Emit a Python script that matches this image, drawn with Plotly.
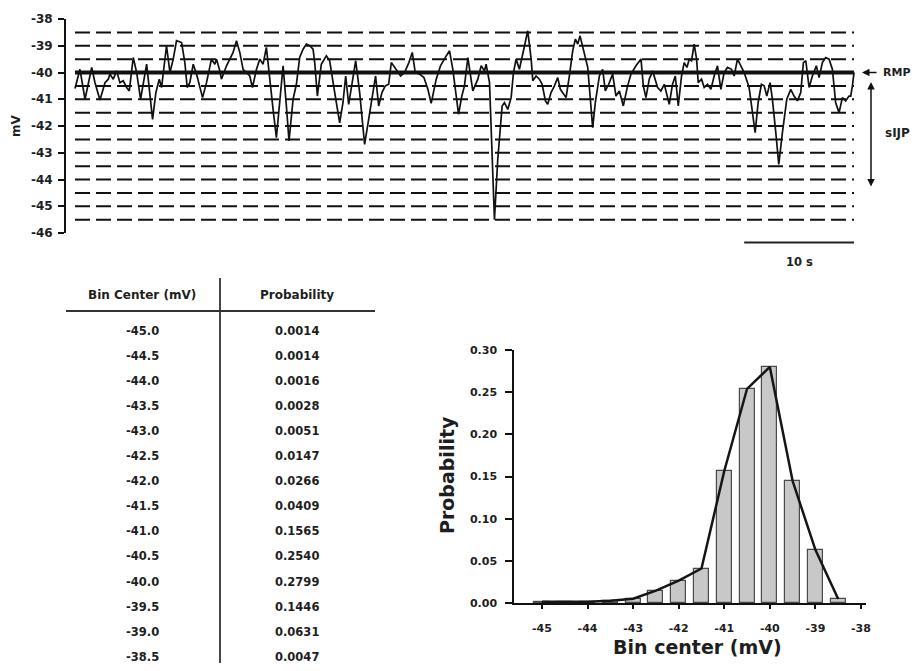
import plotly.graph_objects as go

# ---------------- data ----------------
# membrane potential trace (time in s, potential in mV)
trace_t = [0.00, 0.45, 0.91, 1.52, 1.82, 2.27, 2.73, 3.03, 3.18, 3.48, 3.79, 4.09, 4.39, 4.70, 4.94,
           5.30, 5.61, 5.97, 6.52, 6.82, 7.06, 7.36, 7.67, 7.88, 8.33, 8.64, 8.94, 9.24, 9.70, 10.00,
           10.21, 10.45, 10.76, 11.06, 11.61, 11.97, 12.42, 12.73, 12.88, 13.18, 13.33, 13.79, 14.09,
           14.39, 14.70, 15.00, 15.30, 15.61, 15.91, 16.15, 16.52, 16.82, 17.12, 17.42, 17.73, 18.03,
           18.33, 18.64, 18.94, 19.24, 19.48, 19.85, 20.15, 20.45, 20.76, 21.06, 21.36, 21.67, 21.82,
           22.06, 22.42, 22.88, 23.18, 23.64, 24.09, 24.39, 24.64, 24.91, 25.21, 25.55, 25.91, 26.36,
           26.73, 27.12, 27.36, 27.64, 27.94, 28.24, 28.55, 28.79, 29.24, 29.64, 30.00, 30.39, 30.70,
           30.97, 31.36, 31.76, 32.12, 32.42, 32.88, 33.27, 33.79, 34.09, 34.39, 34.70, 34.91, 35.21,
           35.45, 35.76, 36.21, 36.67, 36.97, 37.27, 37.42, 37.73, 37.94, 38.18, 38.48, 38.88, 39.09,
           39.39, 39.70, 39.91, 40.15, 40.45, 40.85, 41.21, 41.52, 41.67, 41.97, 42.27, 42.52, 42.82,
           43.03, 43.33, 43.64, 43.94, 44.18, 44.45, 44.70, 45.00, 45.30, 45.55, 45.76, 45.97, 46.27,
           46.67, 46.91, 47.12, 47.36, 47.73, 48.03, 48.27, 48.58, 48.94, 49.24, 49.55, 49.91, 50.30,
           50.61, 51.06, 51.52, 51.73, 51.97, 52.27, 52.58, 52.88, 53.03, 53.33, 53.64, 54.09, 54.39,
           54.64, 54.91, 55.21, 55.45, 55.70, 55.91, 56.12, 56.36, 56.58, 56.73, 57.03, 57.27, 57.58,
           57.88, 58.18, 58.48, 58.79, 59.09, 59.39, 59.76, 60.00, 60.30, 60.61, 60.91, 61.36, 61.67,
           61.91, 62.18, 62.48, 62.73, 62.97, 63.27, 63.48, 63.79, 64.06, 64.39, 64.79, 65.15, 65.45,
           65.76, 66.06, 66.30, 66.52, 66.82, 67.12, 67.48, 67.73, 68.03, 68.33, 68.64, 68.94, 69.24,
           69.55, 69.85, 70.15, 70.45, 70.61, 70.76, 70.91]
trace_mv = [-40.60, -39.88, -41.00, -39.81, -40.38, -41.03, -40.38, -40.25, -40.06, -40.25, -39.94,
            -40.38, -40.31, -40.56, -40.69, -39.44, -40.00, -41.00, -39.69, -40.75, -41.75, -40.75,
            -40.25, -40.56, -39.00, -40.00, -39.50, -38.81, -38.88, -39.63, -40.56, -40.38, -39.69,
            -40.06, -40.94, -40.38, -39.50, -39.69, -39.50, -39.94, -40.25, -39.75, -39.50, -39.25,
            -38.81, -39.25, -39.88, -40.00, -40.13, -40.56, -39.88, -39.50, -39.69, -39.06, -40.13,
            -41.38, -42.44, -41.00, -39.75, -41.25, -42.56, -41.00, -40.44, -39.44, -39.13, -38.94,
            -39.00, -39.13, -39.63, -40.88, -39.69, -39.38, -39.56, -40.75, -41.88, -41.13, -40.13,
            -41.19, -40.38, -39.56, -40.75, -42.69, -41.75, -40.75, -40.13, -41.25, -40.75, -40.50,
            -40.44, -39.63, -39.88, -40.13, -40.00, -39.63, -39.25, -40.00, -40.06, -40.19, -40.63,
            -41.15, -40.25, -39.75, -39.38, -39.19, -39.88, -40.88, -41.56, -40.88, -40.50, -39.44,
            -40.69, -40.25, -39.75, -39.94, -39.69, -40.38, -43.00, -45.50, -43.25, -41.25, -41.13,
            -41.38, -40.94, -40.00, -39.50, -39.88, -39.13, -38.44, -39.50, -40.31, -40.13, -40.25,
            -40.44, -41.06, -41.19, -40.75, -40.50, -40.19, -40.63, -40.81, -40.94, -40.13, -39.19,
            -38.75, -38.94, -38.63, -39.13, -39.81, -41.00, -42.06, -41.13, -40.13, -39.88, -40.69,
            -40.44, -40.06, -40.88, -40.69, -41.25, -40.50, -40.06, -39.75, -39.50, -40.50, -40.94,
            -40.25, -39.94, -40.38, -40.56, -40.69, -40.44, -41.19, -40.44, -40.13, -41.25, -40.13,
            -39.63, -39.81, -39.50, -39.56, -38.94, -39.50, -40.38, -40.25, -40.56, -40.44, -40.63,
            -40.13, -39.75, -40.63, -40.00, -39.81, -39.88, -40.13, -39.50, -39.75, -40.00, -40.56,
            -41.50, -42.25, -41.13, -40.44, -40.50, -40.88, -40.38, -41.00, -42.25, -43.44, -42.25,
            -41.00, -40.63, -40.88, -41.06, -40.75, -39.63, -39.56, -40.56, -40.13, -39.75, -40.19,
            -39.63, -39.44, -39.50, -39.88, -41.13, -41.50, -40.94, -41.06, -40.88, -40.88, -40.50,
            -40.00]

rmp_mv = -40.0
bin_edges_mv = [-38.5, -39.0, -39.5, -40.5, -41.0, -41.5, -42.0, -42.5, -43.0,
                -43.5, -44.0, -44.5, -45.0, -45.5]
scale_bar_s = 10

bin_centers = [-45.0, -44.5, -44.0, -43.5, -43.0, -42.5, -42.0, -41.5, -41.0,
               -40.5, -40.0, -39.5, -39.0, -38.5]
probabilities = [0.0014, 0.0014, 0.0016, 0.0028, 0.0051, 0.0147, 0.0266, 0.0409,
                 0.1565, 0.2540, 0.2799, 0.1446, 0.0631, 0.0047]

top_yticks = [-38, -39, -40, -41, -42, -43, -44, -45, -46]
hist_xticks = [-45, -44, -43, -42, -41, -40, -39, -38]
table_headers = ["Bin Center (mV)", "Probability"]

# ---------------- layout helpers ----------------
# the page places the figure 8 px from the window's top-left corner;
# keep the page inside the window so no scrollbars appear
OFF = 8
W, H = 921 - OFF, 671 - 2 * OFF
def px(x):
    return (x - OFF) / W
def py(y):
    return 1 - (y - OFF) / H

FONT = "DejaVu Sans"
TXT = "#1e1e1e"

fig = go.Figure()

t0, t1 = trace_t[0], trace_t[-1]
# dashed level lines
for lv in bin_edges_mv:
    fig.add_trace(go.Scatter(x=[t0, t1], y=[lv, lv], mode="lines",
                             line=dict(color="#111111", width=2, dash="15px,6px"),
                             xaxis="x", yaxis="y", hoverinfo="skip", showlegend=False))
# trace
fig.add_trace(go.Scatter(x=trace_t, y=trace_mv, mode="lines",
                         line=dict(color="#111111", width=1.7),
                         xaxis="x", yaxis="y", showlegend=False))
# RMP line
fig.add_trace(go.Scatter(x=[t0, t1], y=[rmp_mv, rmp_mv], mode="lines",
                         line=dict(color="#111111", width=4),
                         xaxis="x", yaxis="y", hoverinfo="skip", showlegend=False))

# histogram
fig.add_trace(go.Bar(x=bin_centers, y=probabilities, width=0.33,
                     marker=dict(color="#c8c8c8", line=dict(color="#4a4a4a", width=1.2)),
                     xaxis="x2", yaxis="y2", showlegend=False))
fig.add_trace(go.Scatter(x=bin_centers, y=probabilities, mode="lines",
                         line=dict(color="#151515", width=2.5),
                         xaxis="x2", yaxis="y2", showlegend=False))

shapes = []
annotations = []

# scale bar
shapes.append(dict(type="line", xref="x", yref="paper",
                   x0=t1 - scale_bar_s, x1=t1, y0=py(242.5), y1=py(242.5),
                   line=dict(color="#222222", width=2)))
annotations.append(dict(x=t1 - scale_bar_s / 2, y=py(262), xref="x", yref="paper",
                        text=f"{scale_bar_s} s", showarrow=False,
                        font=dict(family=FONT, size=11.5, color=TXT, weight="bold"),
                        xanchor="center", yanchor="middle"))

# mV label
annotations.append(dict(x=px(16), y=py(126), xref="paper", yref="paper", text="mV",
                        textangle=-90, showarrow=False,
                        font=dict(family=FONT, size=12, color=TXT, weight="bold"),
                        xanchor="center", yanchor="middle"))
# RMP arrow + label
annotations.append(dict(x=px(862), y=py(72.5), xref="paper", yref="paper", text="",
                        showarrow=True, ax=16, ay=0, arrowhead=2, arrowsize=1,
                        arrowwidth=1.5, arrowcolor="#111111"))
annotations.append(dict(x=px(912), y=py(72.5), xref="paper", yref="paper", text="RMP",
                        showarrow=False, xanchor="right", yanchor="middle",
                        font=dict(family=FONT, size=11, color=TXT, weight="bold")))
# sIJP double arrow + label
annotations.append(dict(x=px(871), y=py(82), xref="paper", yref="paper", text="",
                        showarrow=True, ax=0, ay=106, arrowhead=2, arrowsize=1,
                        arrowside="end+start", arrowwidth=1.5, arrowcolor="#111111"))
annotations.append(dict(x=px(912), y=py(133), xref="paper", yref="paper", text="sIJP",
                        showarrow=False, xanchor="right", yanchor="middle",
                        font=dict(family=FONT, size=12, color=TXT, weight="bold")))

# table
shapes.append(dict(type="line", xref="paper", yref="paper", x0=px(66), x1=px(375),
                   y0=py(311), y1=py(311), line=dict(color="#333333", width=1.8)))
shapes.append(dict(type="line", xref="paper", yref="paper", x0=px(220), x1=px(220),
                   y0=py(278), y1=0, line=dict(color="#333333", width=1.8)))
col_x = [142, 297]
for cx, hdr in zip(col_x, table_headers):
    annotations.append(dict(x=px(cx), y=py(295), xref="paper", yref="paper", text=hdr,
                            showarrow=False, xanchor="center", yanchor="middle",
                            font=dict(family=FONT, size=12, color=TXT, weight="bold")))
for i, (c, p) in enumerate(zip(bin_centers, probabilities)):
    yy = py(330.5 + i * 25.1)
    annotations.append(dict(x=px(col_x[0]), y=yy, xref="paper", yref="paper",
                            text=f"{c:.1f}", showarrow=False, xanchor="center", yanchor="middle",
                            font=dict(family=FONT, size=11.5, color=TXT, weight="bold")))
    annotations.append(dict(x=px(col_x[1]), y=yy, xref="paper", yref="paper",
                            text=f"{p:.4f}", showarrow=False, xanchor="center", yanchor="middle",
                            font=dict(family=FONT, size=11.5, color=TXT, weight="bold")))

# histogram axis titles
annotations.append(dict(x=px(697), y=py(647), xref="paper", yref="paper",
                        text="Bin center (mV)", showarrow=False, xanchor="center", yanchor="middle",
                        font=dict(family=FONT, size=19, color=TXT, weight="bold")))
annotations.append(dict(x=px(447), y=py(475), xref="paper", yref="paper",
                        text="Probability", textangle=-90, showarrow=False,
                        xanchor="center", yanchor="middle",
                        font=dict(family=FONT, size=19, color=TXT, weight="bold")))

tickfont_top = dict(family=FONT, size=12, color=TXT, weight="bold")
tickfont_hist = dict(family=FONT, size=11, color=TXT, weight="bold")

fig.update_layout(
    width=W, height=H, margin=dict(l=0, r=0, t=0, b=0, pad=0, autoexpand=False),
    paper_bgcolor="white", plot_bgcolor="white", showlegend=False,
    bargap=0,
    xaxis=dict(domain=[px(66), px(866)], range=[-0.82, 72.0], visible=False,
               showgrid=False, zeroline=False, automargin=False),
    yaxis=dict(domain=[py(233), py(19)], range=[-46, -38], tickvals=top_yticks,
               ticktext=[str(v) for v in top_yticks], automargin=False,
               showline=True, linecolor="#111111", linewidth=2, ticks="outside",
               ticklen=6, tickwidth=2, tickcolor="#111111", showgrid=False, zeroline=False,
               tickfont=tickfont_top, ticklabelstandoff=3),
    xaxis2=dict(domain=[px(514), px(866)], range=[-45.614, -37.89], anchor="y2",
                tickvals=hist_xticks, ticktext=[str(v) for v in hist_xticks], automargin=False,
                showline=True, linecolor="#111111", linewidth=1.5, ticks="outside",
                ticklen=4, tickwidth=1.5, tickcolor="#111111", showgrid=False, zeroline=False,
                tickfont=tickfont_hist, ticklabelstandoff=10),
    yaxis2=dict(domain=[py(603), py(350)], range=[0, 0.30], anchor="x2", dtick=0.05,
                tickformat=".2f", showline=True, linecolor="#111111", linewidth=1.5,
                automargin=False,
                ticks="outside", ticklen=7, tickwidth=1.5, tickcolor="#111111",
                showgrid=False, zeroline=False, tickfont=tickfont_hist, ticklabelstandoff=6),
    shapes=shapes, annotations=annotations,
)

fig.write_html("out.html")
